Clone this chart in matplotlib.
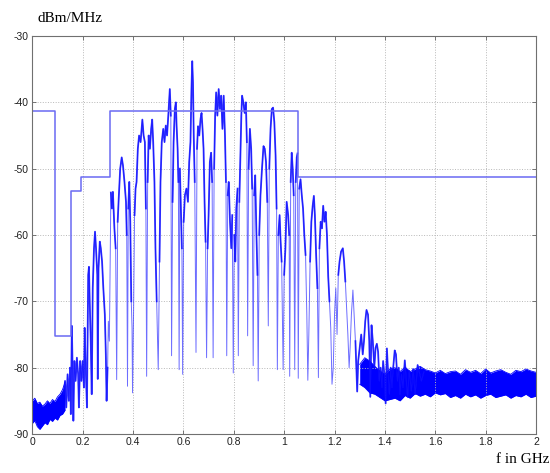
import matplotlib
matplotlib.use("Agg")
import matplotlib.pyplot as plt
import numpy as np

# ---- mask (limit line), step function ----
mask_f = [0.0, 0.091, 0.155, 0.195, 0.31, 1.056, 2.0]
mask_db = [-41.3, -75.3, -53.3, -51.3, -41.3, -51.3, -51.3]

# ---- low-frequency noise floor band ----
floorL_f = [0.0, 0.01, 0.02, 0.03, 0.04, 0.05, 0.06, 0.07, 0.08, 0.09, 0.10, 0.11, 0.12, 0.13]
floorL_hi = [-85.0, -84.6, -85.4, -85.2, -85.8, -85.5, -85.0, -85.4, -84.8, -85.1, -84.4, -84.0, -83.3, -82.2]
floorL_lo = [-88.4, -88.0, -88.9, -89.3, -88.8, -88.3, -88.6, -87.8, -88.1, -87.6, -87.9, -87.2, -87.0, -86.4]

# ---- high-frequency noise floor band ----
floorR_f = [1.30, 1.32, 1.34, 1.36, 1.38, 1.40, 1.42, 1.44, 1.46, 1.48, 1.50, 1.52, 1.54, 1.56, 1.58,
            1.60, 1.62, 1.64, 1.66, 1.68, 1.70, 1.72, 1.74, 1.76, 1.78, 1.80, 1.82, 1.84, 1.86,
            1.88, 1.90, 1.92, 1.94, 1.96, 1.98, 2.00]
floorR_hi = [-79.5, -78.5, -79.0, -79.8, -80.5, -81.0, -80.2, -80.0, -80.6, -79.9, -80.6, -80.2, -79.8,
             -80.3, -80.5, -80.8, -80.4, -80.9, -80.6, -80.5, -81.0, -80.3, -80.7, -80.4, -80.9,
             -80.2, -80.8, -80.5, -80.3, -80.7, -81.0, -80.4, -80.6, -80.2, -80.5, -80.7]
floorR_lo = [-82.5, -83.0, -83.8, -84.0, -84.5, -85.0, -84.8, -84.6, -85.0, -84.2, -84.6, -83.9, -84.3,
             -84.0, -84.4, -83.8, -84.1, -83.9, -84.5, -84.2, -84.6, -84.0, -84.4, -84.1, -84.6,
             -84.2, -84.0, -84.5, -84.3, -84.1, -84.6, -84.2, -84.4, -84.0, -84.5, -84.3]

# ---- spectrum trace through the signal band (peaks and notches) ----
spec_f = [0.125, 0.13, 0.135, 0.14, 0.145, 0.15, 0.153, 0.157, 0.16, 0.163, 0.167, 0.172, 0.177, 0.182,
          0.185, 0.19, 0.195, 0.2, 0.205, 0.208, 0.212, 0.217, 0.222, 0.225, 0.228, 0.232, 0.236, 0.24,
          0.245, 0.249, 0.253, 0.258, 0.26, 0.263, 0.268, 0.272, 0.277, 0.282, 0.288, 0.292, 0.295,
          0.299, 0.302, 0.306,
          0.312, 0.316, 0.32, 0.326, 0.331, 0.335, 0.339, 0.343, 0.349, 0.355, 0.36, 0.366, 0.372,
          0.375, 0.378, 0.381, 0.385, 0.389, 0.393, 0.396, 0.398, 0.402, 0.406, 0.41, 0.414, 0.419,
          0.424, 0.43, 0.437, 0.442, 0.447, 0.451, 0.454, 0.458, 0.462, 0.467, 0.472, 0.476, 0.48,
          0.485, 0.489, 0.494, 0.5, 0.505, 0.509, 0.514, 0.52, 0.525, 0.53, 0.535, 0.54, 0.546, 0.55,
          0.553, 0.557, 0.561, 0.566, 0.57, 0.573, 0.577, 0.58, 0.583, 0.586, 0.59, 0.594, 0.597,
          0.601, 0.606, 0.612, 0.618, 0.623, 0.628, 0.632, 0.635, 0.638, 0.641, 0.645, 0.65, 0.654,
          0.658, 0.663, 0.668, 0.672, 0.676, 0.68, 0.684, 0.688, 0.692, 0.696, 0.7, 0.705, 0.71,
          0.714, 0.718, 0.722, 0.726, 0.73, 0.735, 0.74, 0.745, 0.75, 0.755, 0.76, 0.765, 0.769,
          0.772, 0.776, 0.78, 0.785, 0.79, 0.794, 0.798, 0.802, 0.806, 0.81, 0.815, 0.818, 0.822,
          0.826, 0.83, 0.833, 0.838, 0.843, 0.848, 0.852, 0.855, 0.859, 0.864, 0.869, 0.873, 0.877,
          0.881, 0.885, 0.89, 0.894, 0.897, 0.901, 0.906, 0.912, 0.918, 0.923, 0.928, 0.933, 0.937,
          0.941, 0.946, 0.951, 0.956, 0.961, 0.966, 0.97, 0.973, 0.977, 0.982, 0.986, 0.99, 0.996,
          1.0, 1.005, 1.01, 1.016, 1.02, 1.022, 1.026, 1.03, 1.034, 1.038, 1.042, 1.046, 1.05, 1.053,
          1.056, 1.06, 1.065, 1.07, 1.075, 1.08, 1.085, 1.09, 1.094, 1.098, 1.103, 1.108, 1.113,
          1.118, 1.122, 1.127, 1.132, 1.136, 1.14, 1.145, 1.15, 1.155, 1.16, 1.165, 1.17, 1.175,
          1.18, 1.185, 1.19, 1.195, 1.2, 1.205, 1.21, 1.215, 1.22, 1.226, 1.233, 1.238, 1.243,
          1.248, 1.253, 1.258, 1.262, 1.267, 1.273, 1.278, 1.283, 1.29, 1.294, 1.3, 1.306, 1.312,
          1.317, 1.322, 1.327, 1.333, 1.338, 1.342, 1.347, 1.352, 1.358, 1.363, 1.368, 1.373,
          1.378, 1.383, 1.388, 1.393, 1.398, 1.403, 1.408, 1.413, 1.418, 1.423, 1.428, 1.433,
          1.439, 1.444, 1.45, 1.455, 1.46, 1.466, 1.472, 1.479, 1.485, 1.49, 1.497, 1.505,
          1.512, 1.52, 1.53, 1.545, 1.555]
spec_db = [-84, -82, -86, -81, -85, -80, -87, -73.7, -80, -88, -79, -82, -78.5, -81,
           -86, -79, -82, -79, -83, -74, -80, -86, -66, -64.8, -70, -76, -84, -68,
           -62, -59.5, -62, -66, -81.7, -65, -61, -62, -64, -68, -72, -78, -85,
           -80, -73, -76,
           -53.6, -56, -53.5, -59, -62, -81.8, -58, -54.6, -50, -48.3, -49.5, -52, -55,
           -60, -82.8, -56, -52, -58, -70, -74, -83.8, -72, -57, -53, -52, -47,
           -45, -46, -42.6, -45, -46, -56, -81.3, -52, -45, -47, -44, -42.6, -46,
           -52, -62, -70, -80.3, -64, -52, -46, -44, -46, -43.5, -45, -42, -38, -42,
           -78.2, -55, -46, -41, -40, -43.6, -47, -52, -80.3, -50, -56, -62, -81,
           -58, -54, -53, -55, -49, -46, -38, -33.8, -37, -45, -52, -77.7, -47,
           -43.6, -45, -42.5, -41.6, -44, -47, -55, -61, -78.5, -62, -57, -49, -47.6,
           -52, -78.5, -50, -42, -38.5, -42, -38, -41, -39, -44, -39, -45, -52,
           -78.2, -54, -52, -58, -62, -57, -80.8, -60, -64, -56, -53, -78.2, -55,
           -48.6, -42, -39, -40, -41.6, -40, -46, -75.2, -50, -44, -47, -53, -79.7,
           -54, -51, -60, -66, -82, -60, -54, -50, -46.6, -47, -49, -55, -73.7,
           -50, -44, -41, -40.8, -43, -48, -56, -80.3, -60, -57, -61, -64, -80.3,
           -66, -62, -55, -57, -60, -81.3, -52, -47.6, -50, -54, -80.3, -52, -48.3, -47.7,
           -81.6, -53, -51.6, -54, -56, -60, -63, -72, -81.9, -75, -64, -58, -55.7,
           -54.1, -57, -63, -68, -81.5, -62, -58, -59, -55.6, -58, -56.5, -60, -66.3,
           -70, -74, -82.5, -80, -72, -68, -75, -66, -64, -62.5, -62, -64, -67,
           -71, -75, -80, -77, -72, -68.3, -72, -76, -83.6, -79, -77, -75, -78,
           -76, -73, -71.3, -72, -76, -84.4, -73.6, -76, -80, -77, -76.4, -77.6,
           -82, -80, -83, -79, -81, -85.4, -77.1, -81, -84, -80, -83, -80,
           -77.4, -78, -82, -80, -84, -81, -83, -78.9, -82, -84.4, -80.5, -83.5,
           -80.2, -84.0, -79.6, -82.0, -80.6]

# ---- axis ticks ----
x_ticks = [0, 0.2, 0.4, 0.6, 0.8, 1.0, 1.2, 1.4, 1.6, 1.8, 2.0]
x_labels = ["0", "0.2", "0.4", "0.6", "0.8", "1", "1.2", "1.4", "1.6", "1.8", "2"]
y_ticks = [-90, -80, -70, -60, -50, -40, -30]
y_labels = ["-90", "-80", "-70", "-60", "-50", "-40", "-30"]

fig = plt.figure(figsize=(5.5, 4.73), dpi=100)
ax = fig.add_axes([32.3 / 550, 1 - 434 / 473, (536 - 32.3) / 550, (434 - 36) / 473])

sans = ["Liberation Sans", "DejaVu Sans"]
serif = ["Liberation Serif", "DejaVu Serif"]

spec_col = "#0000ff"
ax.fill_between(floorL_f, floorL_lo, floorL_hi, color=spec_col, lw=0, alpha=1.0)
ax.fill_between(floorR_f, floorR_lo, floorR_hi, color=spec_col, lw=0, alpha=1.0)
for fx, hi, lo in ((floorL_f, floorL_hi, floorL_lo), (floorR_f, floorR_hi, floorR_lo)):
    ax.plot(fx, hi, color=spec_col, lw=0.6)
    ax.plot(fx, lo, color=spec_col, lw=0.6)

# thin trace (includes the deep notches)
ax.plot(spec_f, spec_db, color="#4848ff", lw=0.7, alpha=0.8)
# heavier noisy body of each lobe (notch excursions left thin)
sf = np.asarray(spec_f)
sd = np.asarray(spec_db, dtype=float)
body = np.where((sd < -70) & (sf > 0.3) & (sf < 1.28), np.nan, sd)
ax.plot(sf, body, color=spec_col, lw=1.3, alpha=0.75, solid_joinstyle="round")

ax.step(mask_f, mask_db, where="post", color="#6a6af2", lw=1.1)

ax.set_xlim(0, 2)
ax.set_ylim(-90, -30)
ax.set_xticks(x_ticks)
ax.set_xticklabels(x_labels, fontfamily=sans, fontsize=7.5, color="#202020")
ax.set_yticks(y_ticks)
ax.set_yticklabels(y_labels, fontfamily=sans, fontsize=7.5, color="#202020")
ax.tick_params(direction="in", length=3, width=0.6, color="#606060", top=True, right=True, pad=2.5)
ax.grid(True, linestyle=":", color="#b8b8b8", lw=0.7)
for s in ax.spines.values():
    s.set_color("#707070")
    s.set_linewidth(0.8)

fig.text(38 / 550, 1 - 19 / 473, "dBm/MHz", fontfamily=serif, fontsize=11, va="center", ha="left")
fig.text(549 / 550, 1 - 459 / 473, "f in GHz", fontfamily=serif, fontsize=11, va="center", ha="right")

fig.savefig("out.png", dpi=100)
